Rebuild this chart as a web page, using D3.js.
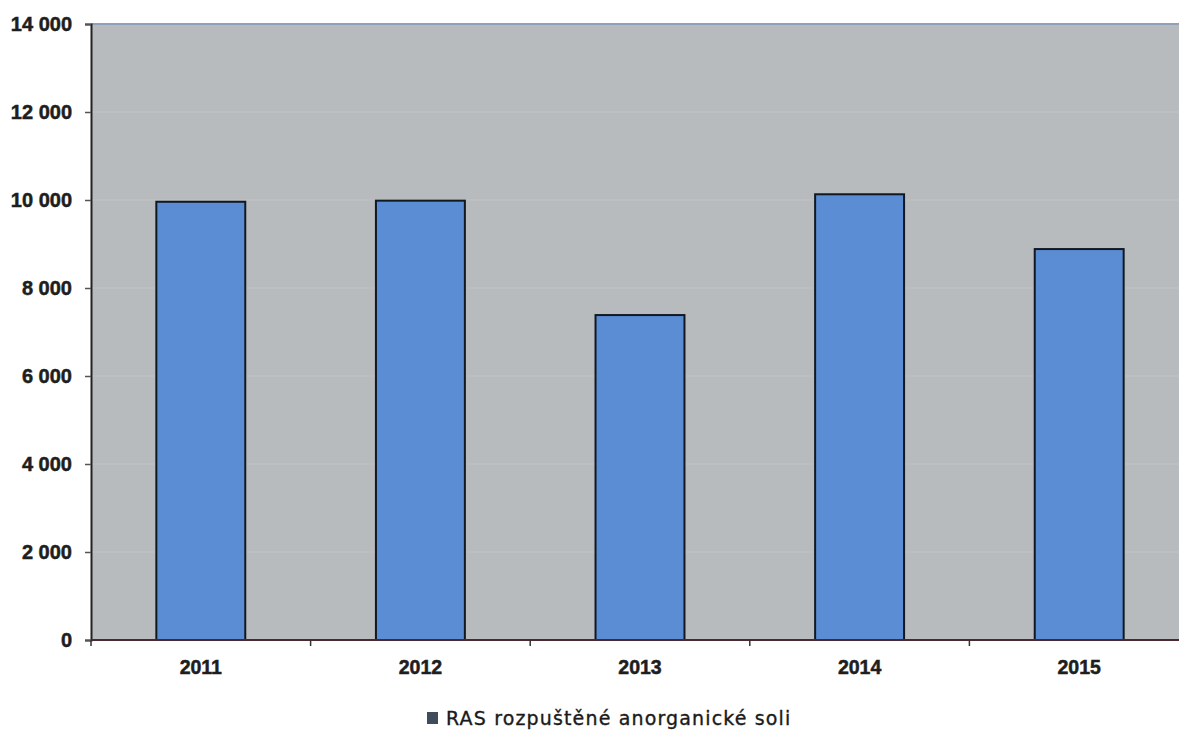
<!DOCTYPE html>
<html>
<head>
<meta charset="utf-8">
<script src="https://cdn.jsdelivr.net/npm/d3@7"></script>
<style>
  html, body { margin: 0; padding: 0; background: #fff; }
  svg { display: block; }
</style>
</head>
<body>
<svg id="chart" width="1179" height="731"></svg>
<script>
// Annual amount of dissolved inorganic salts (RAS)
const years = ["2011", "2012", "2013", "2014", "2015"];
const rasValues = [9960, 9985, 7385, 10130, 8885];
const yTickValues = [0, 2000, 4000, 6000, 8000, 10000, 12000, 14000];
const seriesName = "RAS rozpuštěné anorganické soli";

const svg = d3.select("#chart");
const margin = { left: 91, top: 24, right: -10, bottom: 91 };
const W = 1179, H = 731;
const plotW = W - margin.left - margin.right;
const plotH = H - margin.top - margin.bottom;

const x = d3.scaleBand()
  .domain(years)
  .range([margin.left, margin.left + plotW])
  .paddingInner(0.595)
  .paddingOuter(0.2975);

const y = d3.scaleLinear()
  .domain([0, 14000])
  .range([margin.top + plotH, margin.top]);

const fmt = v => d3.format(",")(v).replace(/,/g, " ");

// plot background
svg.append("rect")
  .attr("x", margin.left).attr("y", margin.top)
  .attr("width", plotW).attr("height", plotH)
  .attr("fill", "#b8bbbe");

// gridlines
svg.append("g")
  .selectAll("line")
  .data(yTickValues.filter(v => v > 0 && v < 14000))
  .join("line")
  .attr("x1", margin.left).attr("x2", margin.left + plotW)
  .attr("y1", d => y(d)).attr("y2", d => y(d))
  .attr("stroke", "#bfc2c4").attr("stroke-width", 1.2);

// top border
svg.append("line")
  .attr("x1", margin.left).attr("x2", margin.left + plotW)
  .attr("y1", margin.top).attr("y2", margin.top)
  .attr("stroke", "#8fa2b8").attr("stroke-width", 2);

// bars
svg.append("g")
  .selectAll("rect")
  .data(years.map((yr, i) => ({ yr, v: rasValues[i] })))
  .join("rect")
  .attr("x", d => x(d.yr))
  .attr("y", d => y(d.v))
  .attr("width", x.bandwidth())
  .attr("height", d => y(0) - y(d.v))
  .attr("fill", "#5a8dd3")
  .attr("stroke", "#101820")
  .attr("stroke-width", 2);

// y axis
const yAxis = svg.append("g")
  .attr("transform", `translate(${margin.left},0)`)
  .call(d3.axisLeft(y).tickValues(yTickValues).tickFormat(fmt).tickSize(6).tickPadding(13));
yAxis.select(".domain").attr("stroke", "#222").attr("stroke-width", 2);
yAxis.selectAll(".tick line").attr("stroke", "#555").attr("stroke-width", 1.5);
yAxis.selectAll(".tick text")
  .attr("font-family", "'Liberation Sans', Arial, sans-serif")
  .attr("font-weight", "bold")
  .attr("font-size", 20)
  .attr("fill", "#1e1e1e")
  .attr("stroke", "#1e1e1e")
  .attr("stroke-width", 0.5);

// x axis
const step = x.step();
const boundaries = d3.range(years.length).map(i => margin.left + i * step);
svg.append("line")
  .attr("x1", margin.left).attr("x2", margin.left + plotW)
  .attr("y1", y(0)).attr("y2", y(0))
  .attr("stroke", "#4a2a30").attr("stroke-width", 2);
svg.append("g")
  .selectAll("line")
  .data(boundaries)
  .join("line")
  .attr("x1", d => d).attr("x2", d => d)
  .attr("y1", y(0)).attr("y2", y(0) + 6)
  .attr("stroke", "#333").attr("stroke-width", 1.5);
svg.append("g")
  .selectAll("text")
  .data(years)
  .join("text")
  .attr("x", d => x(d) + x.bandwidth() / 2)
  .attr("y", y(0) + 34)
  .attr("text-anchor", "middle")
  .attr("font-family", "'Liberation Sans', Arial, sans-serif")
  .attr("font-weight", "bold")
  .attr("font-size", 19.5)
  .attr("fill", "#1e1e1e")
  .attr("stroke", "#1e1e1e")
  .attr("stroke-width", 0.5)
  .text(d => d);

// legend
const legend = svg.append("g").attr("transform", "translate(427,712)");
legend.append("rect")
  .attr("x", 0).attr("y", 0).attr("width", 11).attr("height", 12)
  .attr("fill", "#3f4c5c");
legend.append("text")
  .attr("x", 19).attr("y", 13)
  .attr("font-family", "'DejaVu Sans', Verdana, sans-serif")
  .attr("font-size", 19)
  .attr("letter-spacing", 1.15)
  .attr("fill", "#1a1a1a")
  .attr("stroke", "#1a1a1a")
  .attr("stroke-width", 0.35)
  .text(seriesName);
</script>
</body>
</html>
